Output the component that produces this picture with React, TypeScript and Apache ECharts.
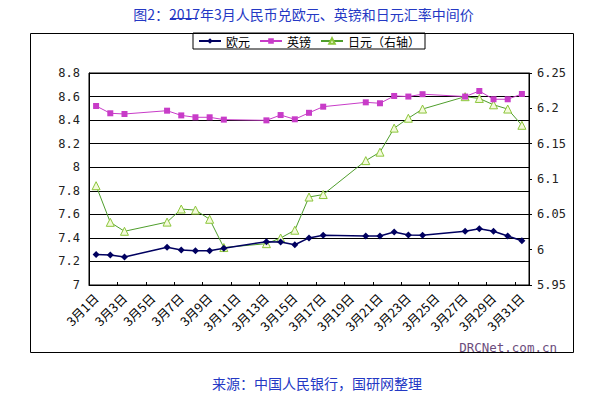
import React, { useEffect, useRef } from "react";
import * as echarts from "echarts";

const days: string[] = Array.from({ length: 31 }, (_, i) => `3月${i + 1}日`);

const euro: (number | null)[] = [
  7.26, 7.255, 7.238, null, null, 7.32, 7.297, 7.29, 7.29, 7.312, null, null,
  7.368, 7.365, 7.342, 7.4, 7.422, null, null, 7.416, 7.416, 7.45, 7.424, 7.422,
  null, null, 7.456, 7.478, 7.456, 7.416, 7.376,
];

const gbp: (number | null)[] = [
  8.52, 8.458, 8.452, null, null, 8.48, 8.44, 8.424, 8.424, 8.404, null, null,
  8.398, 8.443, 8.407, 8.462, 8.514, null, null, 8.551, 8.543, 8.605, 8.6, 8.62,
  null, null, 8.6, 8.647, 8.577, 8.577, 8.622,
];

const jpy: (number | null)[] = [
  6.0905, 6.0387, 6.026, null, null, 6.039, 6.0575, 6.056, 6.043, 6.003, null, null,
  6.0085, 6.0165, 6.0275, 6.0745, 6.078, null, null, 6.126, 6.138, 6.172, 6.186, 6.199,
  null, null, 6.2165, 6.214, 6.205, 6.199, 6.176,
];

const seriesNames = ["欧元", "英镑", "日元（右轴）"];
const titleText = "图2：2017年3月人民币兑欧元、英镑和日元汇率中间价";
const sourceText = "来源：中国人民银行，国研网整理";
const watermark = "DRCNet.com.cn";

const CJK = '"Noto Sans CJK SC", "Noto Sans", sans-serif';
const MONO = '"DejaVu Sans Mono", monospace';

export default function App() {
  const ref = useRef<HTMLDivElement>(null);
  useEffect(() => {
    document.body.style.margin = "0";
    const chart = echarts.init(ref.current!, null, { renderer: "svg" });
    chart.setOption({
      animation: false,
      backgroundColor: "#ffffff",
      title: {
        text: titleText,
        left: "center",
        top: 2,
        textStyle: { fontFamily: CJK, fontSize: 14, fontWeight: "normal", color: "#2438c4" },
      },
      legend: {
        data: seriesNames,
        left: 193,
        top: 33,
        orient: "horizontal",
        borderColor: "#000",
        borderWidth: 1,
        borderRadius: 0,
        padding: [2, 5],
        itemGap: 9,
        itemWidth: 22,
        itemHeight: 7,
        textStyle: { fontFamily: CJK, fontSize: 12, color: "#000" },
      },
      grid: { left: 89, right: 78, top: 73, bottom: 114, containLabel: false },
      xAxis: {
        type: "category",
        data: days,
        boundaryGap: true,
        axisLine: { show: true, lineStyle: { color: "#000", width: 1 } },
        axisTick: { show: true, inside: true, length: 3, interval: 1, lineStyle: { color: "#000" } },
        axisLabel: {
          interval: 1,
          rotate: 45,
          margin: 11,
          fontFamily: CJK,
          fontSize: 12.5,
          color: "#000",
        },
        splitLine: { show: false },
      },
      yAxis: [
        {
          type: "value",
          min: 7,
          max: 8.8,
          interval: 0.2,
          position: "left",
          axisLine: { show: true, lineStyle: { color: "#000" } },
          axisTick: { show: false },
          axisLabel: { margin: 9, fontFamily: MONO, fontSize: 12, color: "#222" },
          splitLine: { show: true, lineStyle: { color: "#000", width: 1 } },
        },
        {
          type: "value",
          min: 5.95,
          max: 6.25,
          interval: 0.05,
          position: "right",
          axisLine: { show: true, lineStyle: { color: "#000" } },
          axisTick: { show: true, length: 3, lineStyle: { color: "#000" } },
          axisLabel: { margin: 8, fontFamily: MONO, fontSize: 12, color: "#222" },
          splitLine: { show: false },
        },
      ],
      series: [
        {
          name: seriesNames[0],
          type: "line",
          data: euro,
          yAxisIndex: 0,
          connectNulls: true,
          symbol: "diamond",
          symbolSize: 7,
          lineStyle: { color: "#000060", width: 1.5 },
          itemStyle: { color: "#000060" },
          z: 4,
        },
        {
          name: seriesNames[1],
          type: "line",
          data: gbp,
          yAxisIndex: 0,
          connectNulls: true,
          symbol: "rect",
          symbolSize: 6,
          lineStyle: { color: "#c83cc8", width: 1 },
          itemStyle: { color: "#c83cc8" },
          z: 3,
        },
        {
          name: seriesNames[2],
          type: "line",
          data: jpy,
          yAxisIndex: 1,
          connectNulls: true,
          symbol: "triangle",
          symbolSize: 8,
          lineStyle: { color: "#4f9e2c", width: 1 },
          itemStyle: { color: "#f4fadc", borderColor: "#8cc63a", borderWidth: 1 },
          z: 2,
        },
      ],
      graphic: [
        {
          type: "rect",
          shape: { x: 30.5, y: 33.5, width: 543, height: 319 },
          style: { fill: "none", stroke: "#000", lineWidth: 1 },
          silent: true,
          z: -1,
        },
        {
          type: "line",
          shape: { x1: 170, y1: 18.5, x2: 198, y2: 18.5 },
          style: { stroke: "#2438c4", lineWidth: 1 },
          silent: true,
        },
        {
          type: "rect",
          shape: { x: 89, y: 73, width: 440, height: 212 },
          style: { fill: "none", stroke: "#000", lineWidth: 1 },
          silent: true,
          z: 0,
        },
        {
          type: "text",
          x: 557,
          y: 341,
          style: {
            text: watermark,
            align: "right",
            fontFamily: MONO,
            fontSize: 12.5,
            fill: "#6b4c7c",
          },
          silent: true,
        },
        {
          type: "text",
          x: 317,
          y: 376,
          style: {
            text: sourceText,
            align: "center",
            fontFamily: CJK,
            fontSize: 14,
            fill: "#2438c4",
          },
          silent: true,
        },
      ],
    });
    return () => chart.dispose();
  }, []);
  return (
    <div
      ref={ref}
      style={{ position: "fixed", left: 0, top: 0, width: 607, height: 399, background: "#fff" }}
    />
  );
}
